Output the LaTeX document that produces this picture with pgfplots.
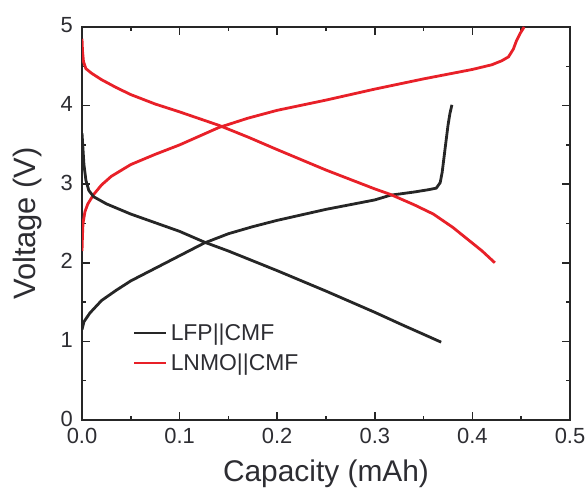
\documentclass[border=0pt]{standalone}
\usepackage{pgfplots}
\pgfplotsset{compat=1.18}
\usepackage{fontspec}
\setmainfont{Liberation Sans}
\definecolor{cred}{RGB}{232,32,40}
\definecolor{cblk}{RGB}{38,38,38}
\definecolor{ctxt}{RGB}{45,45,50}
\begin{document}
\begin{tikzpicture}
\begin{axis}[
  width=488bp, height=393bp, scale only axis,
  xmin=0, xmax=0.5, ymin=0, ymax=5,
  xtick={0,0.1,0.2,0.3,0.4,0.5},
  ytick={0,1,2,3,4,5},
  minor x tick num=1, minor y tick num=1,
  tick align=inside,
  major tick length=8bp, minor tick length=4bp,
  every tick/.style={line width=1.5bp, black!85},
  axis line style={line width=2bp, black!85},
  /pgf/number format/assume math mode=true,
  xticklabel style={/pgf/number format/.cd, fixed, fixed zerofill, precision=1, /tikz/.cd,
    font=\fontsize{22}{22}\selectfont, text=ctxt, inner sep=0bp, yshift=-8bp},
  yticklabel style={/pgf/number format/.cd, fixed, precision=0, /tikz/.cd,
    font=\fontsize{22}{22}\selectfont, text=ctxt, inner sep=0bp, xshift=-9bp, yshift=1.5bp},
  xlabel={Capacity (mAh)}, ylabel={Voltage (V)},
  every axis x label/.style={at={([yshift=-54bp]axis description cs:0.5,0)}, anchor=center,
    font=\fontsize{30}{30}\selectfont, text=ctxt},
  every axis y label/.style={at={([xshift=-54bp]axis description cs:0,0.5)}, anchor=center, rotate=90,
    font=\fontsize{31}{31}\selectfont, text=ctxt},
  legend image code/.code={\draw[#1] (0bp,0bp) -- (32bp,0bp);},
  legend style={at={(axis cs:0.052,0.916)}, anchor=west, draw=none, fill=none,
    inner sep=0bp, row sep=10bp,
    font=\fontsize{23}{23}\selectfont, text=ctxt,
    nodes={inner xsep=3bp, inner ysep=0bp, text height=17bp, text depth=3bp},
    /tikz/every even column/.append style={column sep=0bp}},
  legend cell align=left,
]
% LFP||CMF charge
\addplot[cblk, line width=2.8bp] coordinates {
(0.000,1.15) (0.002,1.25) (0.008,1.36) (0.020,1.52) (0.035,1.65) (0.050,1.77)
(0.075,1.93) (0.100,2.09) (0.125,2.25) (0.150,2.37) (0.175,2.46) (0.200,2.54)
(0.250,2.68) (0.300,2.80) (0.316,2.86) (0.340,2.90) (0.355,2.93) (0.363,2.95)
(0.367,3.02) (0.369,3.15) (0.371,3.35) (0.373,3.55) (0.375,3.75) (0.377,3.90) (0.379,4.01)};
\addlegendentry{LFP||CMF}
% LNMO||CMF charge
\addplot[cred, line width=2.8bp] coordinates {
(0.000,2.15) (0.0005,2.35) (0.001,2.50) (0.003,2.65) (0.006,2.75) (0.012,2.87)
(0.020,2.99) (0.030,3.10) (0.050,3.25) (0.075,3.38) (0.100,3.50) (0.120,3.61)
(0.140,3.72) (0.170,3.84) (0.200,3.94) (0.250,4.07) (0.300,4.21) (0.350,4.34)
(0.400,4.46) (0.420,4.52) (0.430,4.57) (0.437,4.62) (0.442,4.72) (0.445,4.82)
(0.449,4.92) (0.453,5.00)};
\addlegendentry{LNMO||CMF}
% LFP||CMF discharge
\addplot[cblk, line width=2.8bp, forget plot] coordinates {
(0.000,3.65) (0.001,3.45) (0.002,3.25) (0.004,3.05) (0.007,2.92) (0.012,2.84)
(0.025,2.75) (0.050,2.62) (0.075,2.51) (0.100,2.40) (0.126,2.26) (0.150,2.15)
(0.200,1.90) (0.250,1.64) (0.300,1.37) (0.330,1.20) (0.350,1.09) (0.368,0.99)};
% LNMO||CMF discharge
\addplot[cred, line width=2.8bp, forget plot] coordinates {
(0.000,4.85) (0.0005,4.70) (0.0015,4.56) (0.004,4.47) (0.010,4.41) (0.020,4.33)
(0.035,4.23) (0.050,4.14) (0.075,4.02) (0.100,3.92) (0.140,3.75) (0.170,3.60)
(0.200,3.44) (0.250,3.18) (0.300,2.94) (0.316,2.87) (0.340,2.74) (0.360,2.62)
(0.380,2.45) (0.400,2.25) (0.410,2.15) (0.423,2.00)};
\end{axis}
\pgfresetboundingbox
\path[use as bounding box] ([shift={(-82bp,-72bp)}]current axis.south west) rectangle ([shift={(17bp,27bp)}]current axis.north east);
\end{tikzpicture}
\end{document}
